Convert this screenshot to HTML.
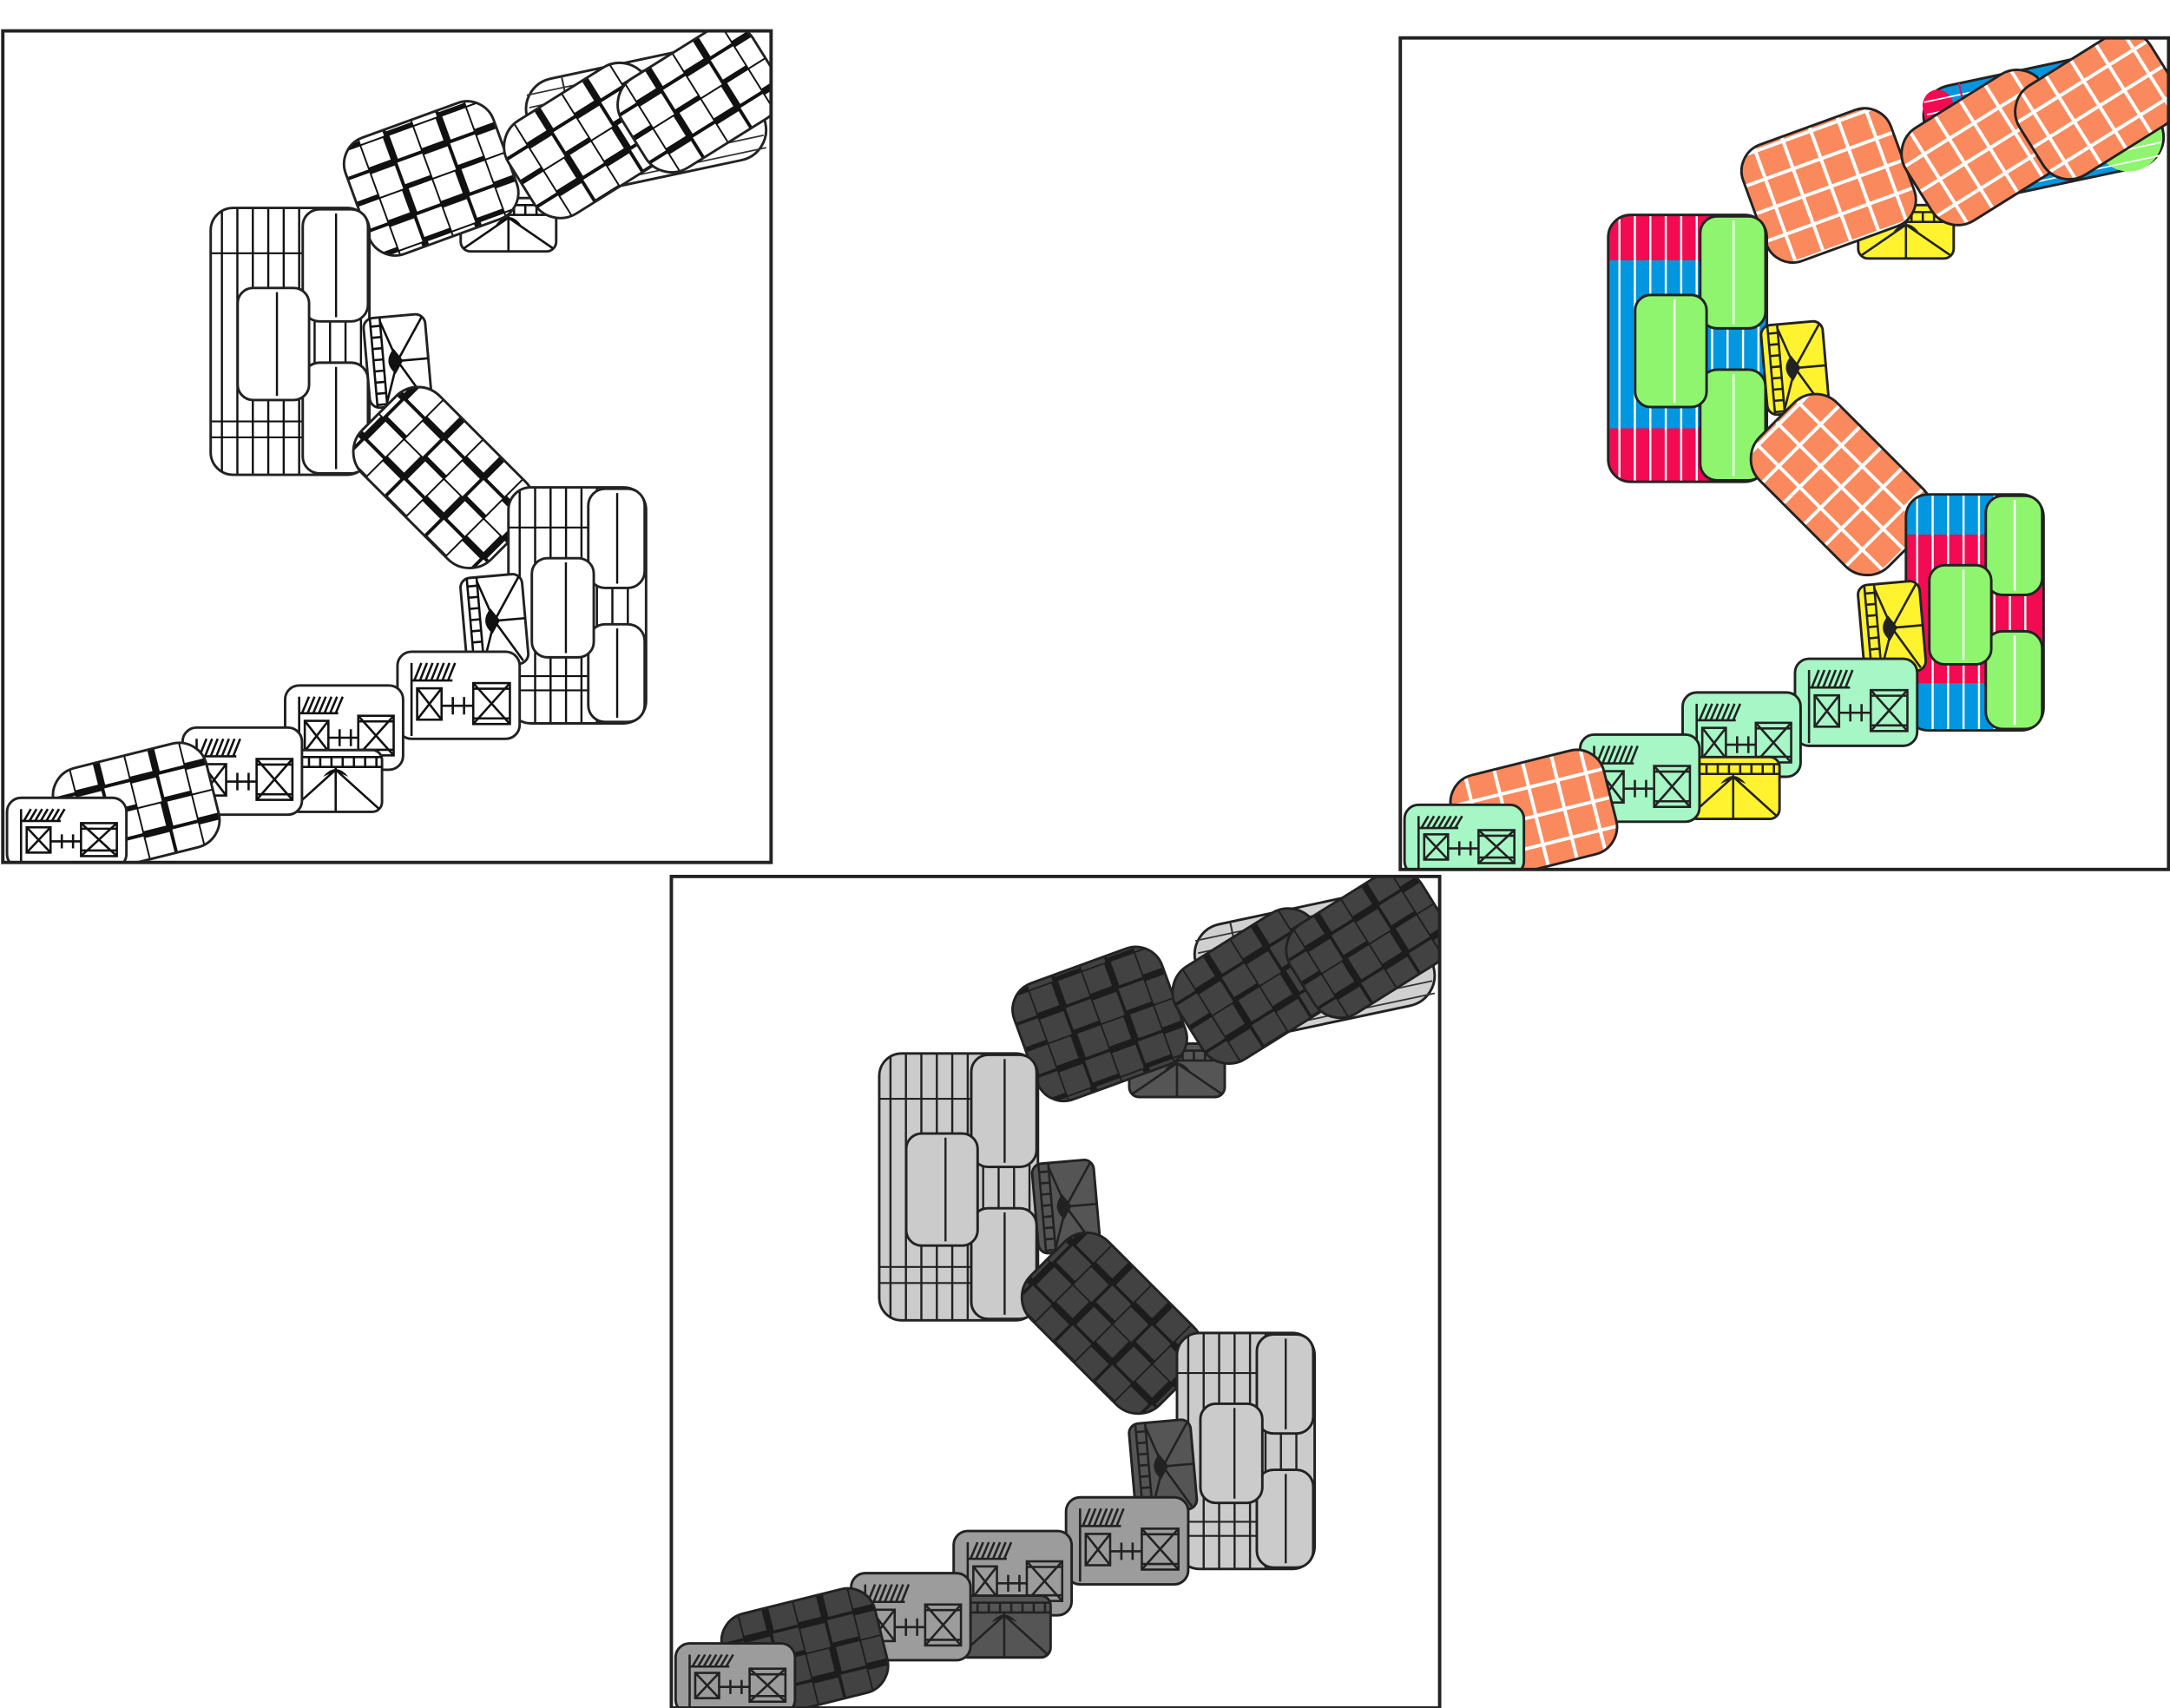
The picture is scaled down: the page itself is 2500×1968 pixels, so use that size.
<!DOCTYPE html>
<html><head><meta charset="utf-8">
<style>html,body{margin:0;padding:0;background:#fff;overflow:hidden}svg{display:block}</style>
</head><body>
<svg id="s" xmlns="http://www.w3.org/2000/svg" width="2500" height="1968" viewBox="0 0 1545 1216" preserveAspectRatio="none">
<defs>
<pattern id="chkA" width="40" height="40" patternUnits="userSpaceOnUse"><rect width="40" height="40" fill="#fff"/><path d="M0 0H40M0 20H40M0 0V40M20 0V40" stroke="#111" stroke-width="2.4"/><path d="M0 20H20M20 0V20M20 40H40" stroke="#111" stroke-width="5"/></pattern>
<pattern id="chkB" width="21" height="21" patternUnits="userSpaceOnUse"><rect width="21" height="21" fill="#fa8a5e"/><path d="M0 0H21M0 0V21" stroke="#fff" stroke-width="5"/></pattern>
<pattern id="chkC" width="40" height="40" patternUnits="userSpaceOnUse"><rect width="40" height="40" fill="#424242"/><path d="M0 0H40M0 20H40M0 0V40M20 0V40" stroke="#1c1c1c" stroke-width="2.2"/><path d="M0 20H20M20 0V20M20 40H40" stroke="#1c1c1c" stroke-width="5"/></pattern>
<clipPath id="clipP"><rect x="2" y="22" width="547" height="592"/></clipPath>
</defs>
<g id="root"></g>
</svg>
<script>
var themes={
A:{chk:'url(#chkA)',bg:'#fff',b1:'#fff',b2:'#fff',inner:'#fff',ln:'#111',icon:'#fff',small:'#fff',sln:'#111'},
B:{chk:'url(#chkB)',bg:'#0096e0',b1:'#f20b52',b2:'#0096e0',inner:'#8ff56e',ln:'#fff',icon:'#fff22e',small:'#a6f6c6',sln:'#222'},
C:{chk:'url(#chkC)',bg:'#cbcbcb',b1:'#cbcbcb',b2:'#cbcbcb',inner:'#cbcbcb',ln:'#222',icon:'#555',small:'#9c9c9c',sln:'#222'}
};
var SW=1.8,OL='#222';
function rr(x,y,w,h,rx,f,extra){return '<rect x="'+x+'" y="'+y+'" width="'+w+'" height="'+h+'" rx="'+rx+'" fill="'+f+'" stroke="'+OL+'" stroke-width="'+SW+'" '+(extra||'')+'/>';}
function tile(cx,cy,w,h,rot,rx,f){return '<g transform="translate('+cx+' '+cy+') rotate('+rot+')">'+rr(-w/2,-h/2,w,h,rx,f)+'</g>';}
function block(t,x,y,w,h,flip){
 var s='<g>',lw=w*0.6,id='cb'+Math.random().toString(36).slice(2);
 s+='<clipPath id="'+id+'"><rect x="'+x+'" y="'+y+'" width="'+w+'" height="'+h+'" rx="16"/></clipPath>';
 s+='<g clip-path="url(#'+id+')">';
 var top=flip?t.b2:t.b1,mid=flip?t.b1:t.b2;
 s+='<rect x="'+x+'" y="'+y+'" width="'+w+'" height="'+h+'" fill="'+mid+'"/>';
 s+='<rect x="'+x+'" y="'+y+'" width="'+w+'" height="'+(h*0.17)+'" fill="'+top+'"/>';
 s+='<rect x="'+x+'" y="'+(y+h*0.8)+'" width="'+w+'" height="'+(h*0.2)+'" fill="'+top+'"/>';
 for(var i=x+8;i<x+w-4;i+=11){s+='<line x1="'+i+'" y1="'+y+'" x2="'+i+'" y2="'+(y+h)+'" stroke="'+t.ln+'" stroke-width="1.5"/>';}
 if(t.ln!='#fff'){s+='<line x1="'+x+'" y1="'+(y+h*0.17)+'" x2="'+(x+lw)+'" y2="'+(y+h*0.17)+'" stroke="'+t.ln+'" stroke-width="1.3"/>';
 s+='<line x1="'+x+'" y1="'+(y+h*0.8)+'" x2="'+(x+w)+'" y2="'+(y+h*0.8)+'" stroke="'+t.ln+'" stroke-width="1.3"/>';
 s+='<line x1="'+x+'" y1="'+(y+h*0.86)+'" x2="'+(x+w)+'" y2="'+(y+h*0.86)+'" stroke="'+t.ln+'" stroke-width="1.3"/>';}
 s+='</g>';
 s+='<rect x="'+x+'" y="'+y+'" width="'+w+'" height="'+h+'" rx="16" fill="none" stroke="'+OL+'" stroke-width="'+SW+'"/>';
 var cw=w*0.42,cx=x+w-cw;
 s+=rr(cx,y+1,cw-1,h*0.42,12,t.inner)+rr(cx,y+h*0.58,cw-1,h*0.42-1,12,t.inner);
 s+='<line x1="'+(cx+cw/2)+'" y1="'+(y+4)+'" x2="'+(cx+cw/2)+'" y2="'+(y+h*0.42-2)+'" stroke="'+t.ln+'" stroke-width="1.5"/>';
 s+='<line x1="'+(cx+cw/2)+'" y1="'+(y+h*0.58+3)+'" x2="'+(cx+cw/2)+'" y2="'+(y+h-4)+'" stroke="'+t.ln+'" stroke-width="1.5"/>';
 var iw=w*0.45,ih=h*0.42;
 s+=rr(x+w*0.17,y+h*0.3,iw,ih,11,t.inner);
 s+='<line x1="'+(x+w*0.17+iw*0.55)+'" y1="'+(y+h*0.3+3)+'" x2="'+(x+w*0.17+iw*0.55)+'" y2="'+(y+h*0.3+ih-3)+'" stroke="'+t.ln+'" stroke-width="1.5"/>';
 return s+'</g>';
}
function icon(t,cx,cy,w,h,rot,horiz){
 var s='<g transform="translate('+cx+' '+cy+') rotate('+rot+')">'+rr(-w/2,-h/2,w,h,7,t.icon);
 var L=t.sln;
 if(!horiz){
  s+='<path d="M'+(-w/2+5)+' '+(-h/2)+'V'+(h/2)+'M'+(-w/2+12)+' '+(-h/2)+'V'+(h/2)+'" stroke="'+L+'" stroke-width="1.6" fill="none"/>';
  for(var k=-h/2+6;k<h/2;k+=8)s+='<line x1="'+(-w/2+5)+'" y1="'+k+'" x2="'+(-w/2+12)+'" y2="'+k+'" stroke="'+L+'" stroke-width="1.6"/>';
  s+='<path d="M'+(w/2-2)+' '+(-h/2+2)+'L0 0L'+(w/2-4)+' '+(h/2-2)+'M0 0H'+(w/2)+'M'+(-w/2+12)+' '+(-h/2+3)+'L0 0L'+(-w/2+12)+' '+(h/2-3)+'" stroke="'+L+'" stroke-width="1.6" fill="none"/>';
  s+='<path d="M-2 -9Q-11 0 -2 9L4 0Z" fill="'+L+'"/>';
 } else {
  s+='<path d="M'+(-w/2)+' '+(-h/2+5)+'H'+(w/2)+'M'+(-w/2)+' '+(-h/2+12)+'H'+(w/2)+'" stroke="'+L+'" stroke-width="1.6"/>';
  for(var k=-w/2+6;k<w/2;k+=8)s+='<line x1="'+k+'" y1="'+(-h/2+5)+'" x2="'+k+'" y2="'+(-h/2+12)+'" stroke="'+L+'" stroke-width="1.6"/>';
  s+='<path d="M'+(-w/2+2)+' '+(h/2-2)+'L0 '+(-h/2+14)+'L'+(w/2-2)+' '+(h/2-2)+'M0 '+(-h/2+12)+'V'+(h/2)+'" stroke="'+L+'" stroke-width="1.6" fill="none"/>';
  s+='<path d="M-9 '+(-h/2+19)+'Q0 '+(-h/2+8)+' 9 '+(-h/2+19)+'L0 '+(-h/2+15)+'Z" fill="'+L+'"/>';
 }
 return s+'</g>';
}
function small(t,x,y,w,h){
 var s=rr(x,y,w,h,10,t.small),L=t.sln;
 s+='<g stroke="'+L+'" stroke-width="1.6" fill="none">';
 for(var k=0;k<7;k++)s+='<line x1="'+(x+12+k*4)+'" y1="'+(y+h*0.33)+'" x2="'+(x+17+k*4)+'" y2="'+(y+8)+'"/>';
 s+='<path d="M'+(x+10)+' '+(y+h*0.33)+'H'+(x+w*0.45)+'M'+(x+10)+' '+(y+8)+'V'+(y+h-2)+'"/>';
 var bx=x+w*0.62,by=y+h*0.36,bw=w*0.3,bh=h*0.47;
 s+='<rect x="'+bx+'" y="'+by+'" width="'+bw+'" height="'+bh+'"/><path d="M'+bx+' '+by+'L'+(bx+bw)+' '+(by+bh)+'M'+(bx+bw)+' '+by+'L'+bx+' '+(by+bh)+'M'+bx+' '+(by+4)+'H'+(bx+bw)+'M'+bx+' '+(by+bh-4)+'H'+(bx+bw)+'"/>';
 var ax=x+14,ay=y+h*0.42,aw=w*0.2,ah=h*0.36;
 s+='<rect x="'+ax+'" y="'+ay+'" width="'+aw+'" height="'+ah+'"/><path d="M'+ax+' '+ay+'L'+(ax+aw)+' '+(ay+ah)+'M'+(ax+aw)+' '+ay+'L'+ax+' '+(ay+ah)+'"/>';
 s+='<path d="M'+(ax+aw)+' '+(y+h*0.62)+'H'+bx+'M'+(ax+aw+8)+' '+(y+h*0.52)+'V'+(y+h*0.72)+'M'+(ax+aw+16)+' '+(y+h*0.52)+'V'+(y+h*0.72)+'"/>';
 return s+'</g>';
}
function stripeBg(t,cx,cy,w,h,rot){
 var s='<g transform="translate('+cx+' '+cy+') rotate('+rot+')">'+rr(-w/2,-h/2,w,h,22,t===themes.B?'#0096e0':(t===themes.C?'#d0d0d0':'#fff'));
 if(t===themes.B){s+='<rect x="'+(-w/2+1)+'" y="'+(-h/2+1)+'" width="22" height="'+(h-2)+'" rx="12" fill="#f20b52"/>';s+='<circle cx="'+(w/2-25)+'" cy="'+(h/2-22)+'" r="24" fill="#8ff56e"/>';}
 for(var k=-h/2+8;k<h/2;k+=9)s+='<line x1="'+(-w/2+3)+'" y1="'+k+'" x2="'+(w/2-3)+'" y2="'+k+'" stroke="'+(t===themes.B?'#fff':'#333')+'" stroke-width="1.1"/>';
 s+='<line x1="'+(-w/2+30)+'" y1="'+(-h/2)+'" x2="'+(-w/2+30)+'" y2="'+(h/2)+'" stroke="'+(t===themes.B?'#f20b52':'#333')+'" stroke-width="1.3"/>';
 return s+'</g>';
}
function panel(t,ox,oy){
 var s='<g transform="translate('+ox+' '+oy+')"><rect x="2" y="22" width="547" height="592" fill="#fff"/><g clip-path="url(#clipP)">';
 s+=stripeBg(t,460,85,165,85,-12);
 s+=icon(t,362,160,68,38,0,true);
 s+=tile(307,127,112,88,-20,20,t.chk);
 s+=tile(420,100,115,78,-32,22,t.chk);
 s+=tile(498,70,110,75,-32,22,t.chk);
 s+=block(t,150,148,113,190,false);
 s+=icon(t,283,257,44,64,-5,false);
 s+=tile(316,340,130,78,45,22,t.chk);
 s+=block(t,362,347,98,168,true);
 s+=icon(t,352,442,44,64,-5,false);
 s+=small(t,283,464,87,62);
 s+=small(t,203,488,84,60);
 s+=icon(t,239,556,66,44,0,true);
 s+=small(t,130,518,85,62);
 s+=tile(97,575,112,76,-14,20,t.chk);
 s+=small(t,5,568,85,50);
 s+='</g><rect x="2" y="22" width="547" height="592" fill="none" stroke="#222" stroke-width="2.4"/></g>';
 return s;
}
document.getElementById('root').innerHTML=panel(themes.A,0,0)+panel(themes.B,995,5)+panel(themes.C,476,602);
</script>
</body></html>
